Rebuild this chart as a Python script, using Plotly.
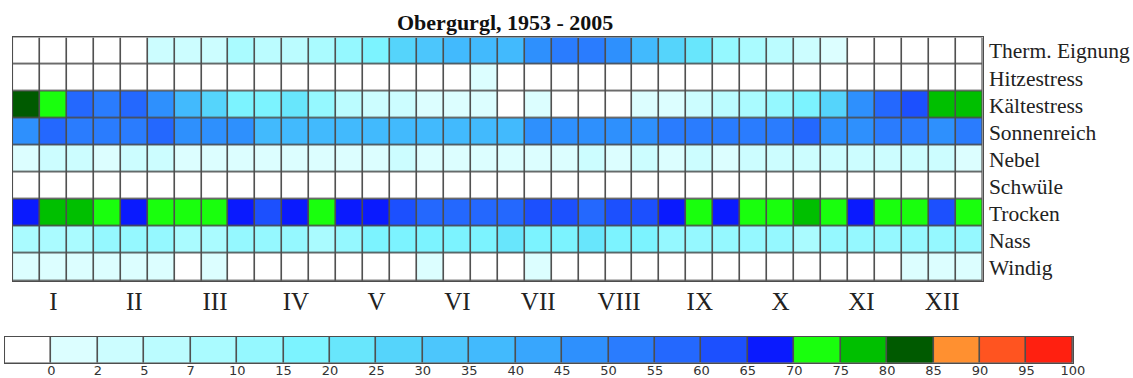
import numpy as np
import plotly.graph_objects as go

# Ten-day periods (3 per month) and climate-index rows, Obergurgl 1953-2005
months = ["I", "II", "III", "IV", "V", "VI", "VII", "VIII", "IX", "X", "XI", "XII"]
row_names = ["Therm. Eignung", "Hitzestress", "Kältestress", "Sonnenreich",
             "Nebel", "Schwüle", "Trocken", "Nass", "Windig"]

# Frequency (%) per ten-day period
therm_eignung = [0, 0, 0, 0, 0, 4, 4, 4, 9, 6, 6, 9, 13, 18, 28, 33, 38, 38, 38, 48, 53, 53, 48, 38,
                 28, 23, 13, 9, 6, 4, 1, 0, 0, 0, 0, 0]
hitzestress = [0, 0, 0, 0, 0, 0, 0, 0, 0, 0, 0, 0, 0, 0, 0, 0, 0, 1, 0, 0, 0, 0, 0, 0,
               0, 0, 0, 0, 0, 0, 0, 0, 0, 0, 0, 0]
kaeltestress = [83, 73, 58, 53, 58, 48, 38, 28, 18, 18, 23, 13, 6, 4, 4, 1, 1, 1, 0, 1, 0, 0, 0, 1,
                1, 4, 6, 9, 13, 18, 28, 48, 58, 63, 78, 78]
sonnenreich = [48, 58, 53, 53, 53, 58, 48, 48, 48, 38, 38, 38, 38, 38, 38, 38, 38, 38, 38, 48, 48, 48, 48, 48,
               53, 53, 53, 53, 53, 58, 48, 48, 53, 53, 48, 53]
nebel = [1, 4, 4, 1, 4, 4, 1, 1, 1, 1, 1, 1, 1, 1, 4, 1, 1, 1, 1, 1, 1, 4, 1, 4,
         1, 4, 1, 4, 4, 4, 4, 4, 4, 4, 4, 1]
schwuele = [0] * 36
trocken = [68, 78, 78, 73, 68, 73, 73, 73, 68, 63, 68, 73, 68, 68, 63, 58, 58, 58, 58, 63, 63, 58, 63, 63,
           68, 73, 68, 73, 73, 78, 73, 68, 73, 73, 63, 73]
nass = [9, 9, 9, 13, 13, 13, 9, 9, 13, 13, 13, 9, 13, 18, 18, 18, 18, 18, 23, 18, 18, 23, 18, 18,
        13, 13, 13, 13, 13, 9, 13, 13, 13, 13, 13, 13]
windig = [1, 1, 1, 1, 1, 1, 0, 1, 0, 0, 0, 0, 0, 0, 0, 1, 0, 0, 0, 1, 0, 0, 0, 0,
          0, 0, 0, 0, 0, 0, 0, 0, 0, 1, 1, 1]

# Class limits (%) and class colours (first class = no occurrence)
class_edges = [0, 2, 5, 7, 10, 15, 20, 25, 30, 35, 40, 45, 50, 55, 60, 65, 70, 75, 80, 85, 90, 95, 100]
class_colors = ["#ffffff", "#dcfeff", "#ccfdff", "#bbfcff", "#aafbff", "#95f8ff", "#7cf3ff",
                "#68e6fc", "#55d4fb", "#4cc6fc", "#42bafd", "#38a6fd", "#2e90fd", "#2a7cfe",
                "#2468fe", "#1c50fe", "#0a1afe", "#19ff0d", "#00bf00", "#005a00", "#ff9030",
                "#ff5420", "#ff2010"]

# Layout is designed on a 1133 x 378 grid; the canvas itself is a little larger
REF_W, REF_H = 1133, 378
W, H = 1148, 382
GAP = 1.6
GRID = "#4d4d4d"
SERIF = "Liberation Serif, Times New Roman, serif"


def fx(px):
    return px / REF_W


def fy(px):
    return 1 - px / REF_H


rows = [therm_eignung, hitzestress, kaeltestress, sonnenreich, nebel,
        schwuele, trocken, nass, windig]
edges = np.array(class_edges, dtype=float)
z_class = [np.searchsorted(edges, np.array(r, dtype=float), side="left").tolist() for r in rows]

n = len(class_colors)
colorscale = []
for k, c in enumerate(class_colors):
    colorscale.append([k / n, c])
    colorscale.append([(k + 1) / n, c])

n_periods = len(therm_eignung)

fig = go.Figure()
fig.add_trace(go.Heatmap(
    z=z_class, x=list(range(n_periods)), y=list(range(len(row_names))),
    colorscale=colorscale, zmin=-0.5, zmax=n - 0.5, showscale=False,
    xgap=GAP, ygap=GAP, hoverinfo="skip"))

# Class legend drawn as a one-row strip
fig.add_trace(go.Heatmap(
    z=[list(range(n))], x=list(range(n)), y=[0], xaxis="x2", yaxis="y2",
    colorscale=colorscale, zmin=-0.5, zmax=n - 0.5, showscale=False,
    xgap=GAP, hoverinfo="skip"))

fig.update_layout(
    width=W, height=H, autosize=False,
    margin=dict(l=0, r=0, t=0, b=0, pad=0),
    paper_bgcolor="white", plot_bgcolor=GRID,
    showlegend=False,
    xaxis=dict(domain=[fx(13), fx(980)], range=[-0.5, n_periods - 0.5],
               tickvals=[3 * i + 1 for i in range(len(months))], ticktext=months,
               tickfont=dict(family=SERIF, size=25, color="#222"),
               ticks="", ticklabelstandoff=-2,
               showgrid=False, zeroline=False, showline=True, mirror=True,
               linecolor=GRID, linewidth=1, anchor="y", fixedrange=True),
    yaxis=dict(domain=[fy(278), fy(37)], range=[len(row_names) - 0.5, -0.5],
               tickvals=list(range(len(row_names))), ticktext=row_names, side="right",
               tickfont=dict(family=SERIF, size=21.5, color="#222"),
               ticks="", ticklabelstandoff=1,
               showgrid=False, zeroline=False, showline=True, mirror=True,
               linecolor=GRID, linewidth=1, anchor="x", fixedrange=True),
    xaxis2=dict(domain=[fx(5), fx(1070)], range=[-0.5, n - 0.5],
                tickvals=[k + 0.5 for k in range(n)], ticktext=[str(v) for v in class_edges],
                tickfont=dict(family="DejaVu Sans, sans-serif", size=13, color="#333"),
                ticks="", ticklabelstandoff=-4,
                showgrid=False, zeroline=False, showline=True, mirror=True,
                linecolor=GRID, linewidth=1, anchor="y2", fixedrange=True),
    yaxis2=dict(domain=[fy(359), fy(333)], range=[-0.5, 0.5],
                showticklabels=False, ticks="",
                showgrid=False, zeroline=False, showline=True, mirror=True,
                linecolor=GRID, linewidth=1, anchor="x2", fixedrange=True),
    annotations=[dict(text="<b>Obergurgl, 1953 - 2005</b>", xref="paper", yref="paper",
                      x=fx(503.5), y=fy(22), xanchor="center", yanchor="middle",
                      showarrow=False, font=dict(family=SERIF, size=22, color="#111"))],
)

fig.write_html("out.html")
